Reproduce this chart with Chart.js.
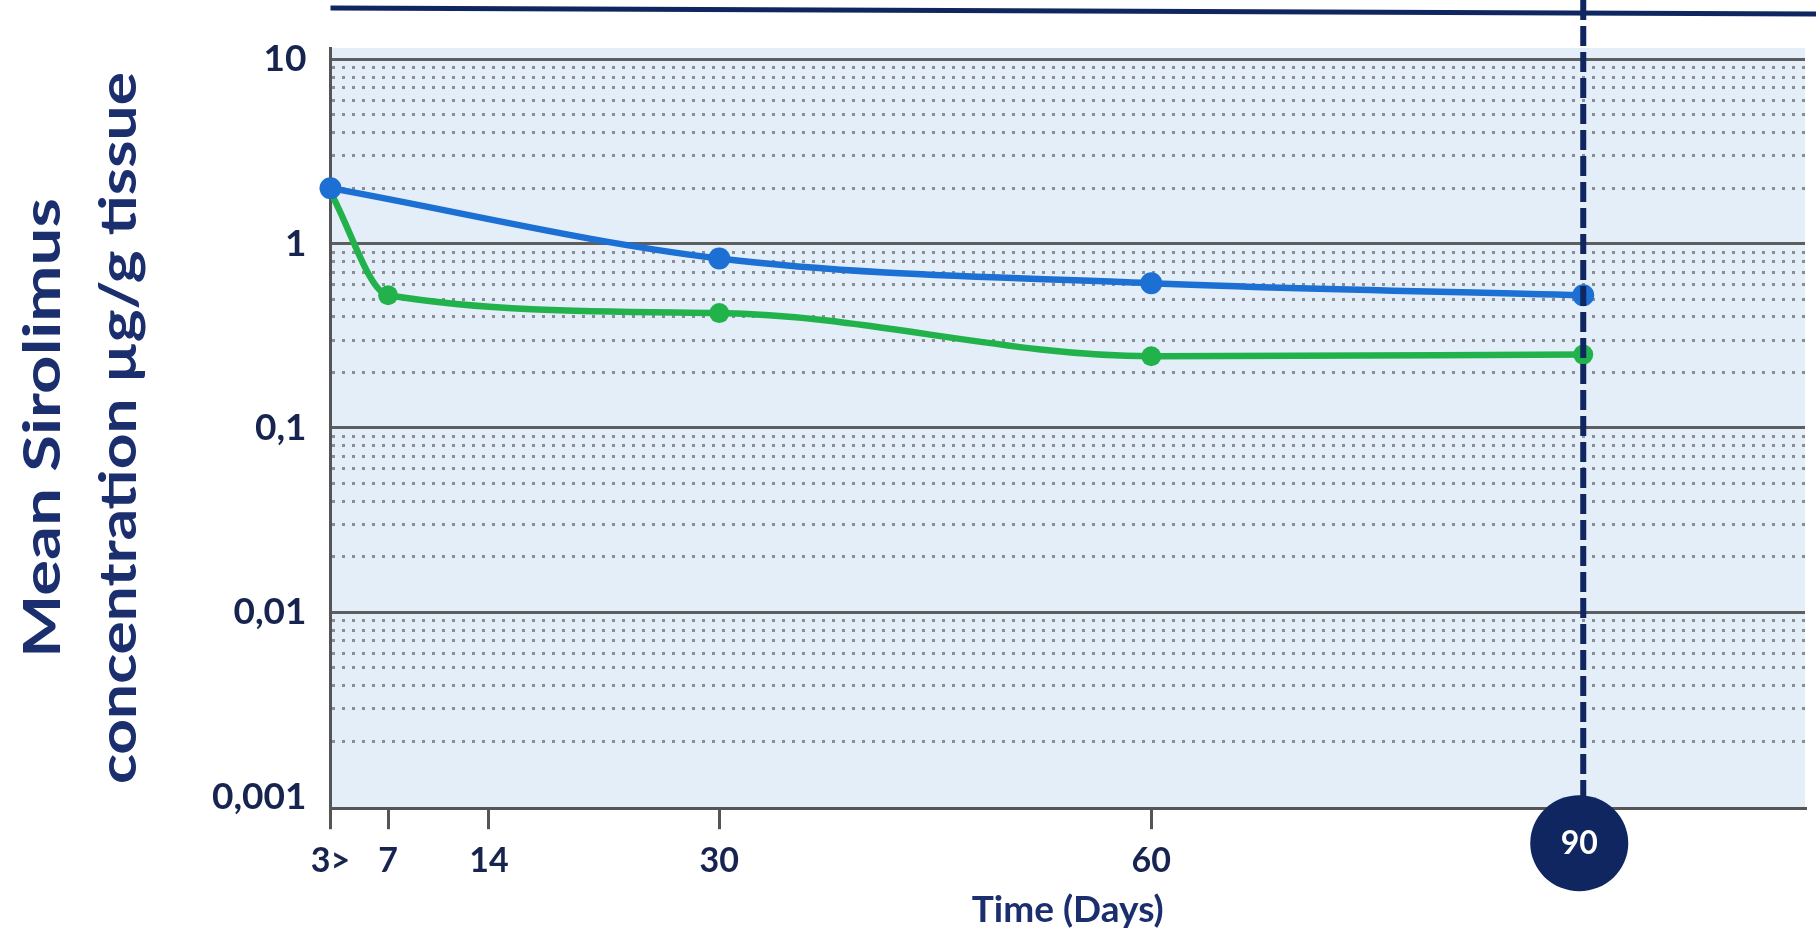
<!DOCTYPE html>
<html>
<head>
<meta charset="utf-8">
<script src="https://cdn.jsdelivr.net/npm/chart.js@4.4.1/dist/chart.umd.min.js"></script>
<style>
  html, body { margin: 0; padding: 0; background: #fff; }
</style>
</head>
<body>
<canvas id="chart1" width="1816" height="936"></canvas>
<script>
// values
const blueDays = [3, 30, 60, 90];
const blueValues = [2.0, 0.83, 0.61, 0.525];
const greenDays = [3, 7, 30, 60, 90];
const greenValues = [1.9, 0.525, 0.42, 0.245, 0.25];

const xTicks = [3, 7, 14, 30, 60, 90];
const xTickLabels = ['3>', '7', '14', '30', '60', ''];
const yDecades = [0.001, 0.01, 0.1, 1, 10];
const yTickLabels = ['0,001', '0,01', '0,1', '1', '10'];
const yTitleLines = ['Mean Sirolimus', 'concentration µg/g tissue'];
const markerDay = 90;
const markerLabel = '90';

const navy = '#0f2660';
const labelColor = '#16244f';
const titleColor = '#1b2f6e';
const yTitleLH = 76;
const yTitleLengths = [460, 712]; // the original text is stretched

// minor ticks 2..9 in every decade
const yTicks = [];
for (let i = 0; i < yDecades.length - 1; i++) {
  for (let k = 1; k <= 9; k++) {
    yTicks.push(parseFloat((k * yDecades[i]).toPrecision(3)));
  }
}
yTicks.push(yDecades[yDecades.length - 1]);

function decadeIndex(v) {
  return yDecades.findIndex(d => Math.abs(v / d - 1) < 1e-6);
}

function toPoints(days, vals) {
  return days.map((d, i) => ({ x: d, y: vals[i] }));
}

const decor = {
  id: 'decor',
  beforeDraw(chart) {
    const { ctx, chartArea } = chart;
    ctx.save();
    ctx.fillStyle = '#e4eef9';
    ctx.fillRect(chartArea.left, chartArea.top, chartArea.right - chartArea.left, chartArea.bottom - chartArea.top);
    ctx.restore();
  },
  afterDraw(chart) {
    const { ctx, chartArea } = chart;
    const x = chart.scales.x.getPixelForValue(markerDay);
    const cy = chartArea.bottom + 35;
    ctx.save();
    // top rule
    ctx.strokeStyle = navy;
    ctx.lineWidth = 5;
    ctx.beginPath();
    ctx.moveTo(chartArea.left, 8);
    ctx.lineTo(chart.width, 14);
    ctx.stroke();
    // dashed marker line
    ctx.lineWidth = 6;
    ctx.setLineDash([20, 6]);
    ctx.beginPath();
    ctx.moveTo(x, 0);
    ctx.lineTo(x, cy);
    ctx.stroke();
    ctx.setLineDash([]);
    // badge
    ctx.fillStyle = navy;
    ctx.beginPath();
    ctx.ellipse(x - 4, cy, 49, 48, 0, 0, Math.PI * 2);
    ctx.fill();
    ctx.fillStyle = '#fff';
    ctx.font = 'bold 32px Lato';
    ctx.textAlign = 'center';
    ctx.textBaseline = 'middle';
    ctx.fillText(markerLabel, x - 4, cy);
    ctx.restore();

    // y title, two lines, stretched like the original
    const ys = chart.scales.y;
    const midY = (chartArea.top + chartArea.bottom) / 2;
    yTitleLines.forEach((line, i) => {
      ctx.save();
      ctx.font = 'bold 52px Lato';
      const w = ctx.measureText(line).width;
      ctx.translate(ys.left + 5 + yTitleLH * (i + 0.5), midY);
      ctx.rotate(-Math.PI / 2);
      ctx.scale(yTitleLengths[i] / w, 1);
      ctx.fillStyle = titleColor;
      ctx.textAlign = 'center';
      ctx.textBaseline = 'middle';
      ctx.fillText(line, 0, 0);
      ctx.restore();
    });
  }
};

new Chart(document.getElementById('chart1'), {
  type: 'line',
  data: {
    datasets: [{
      label: 'blue',
      data: toPoints(blueDays, blueValues),
      borderColor: '#1c6fd3',
      backgroundColor: '#1c6fd3',
      borderWidth: 6.5,
      pointRadius: 11,
      pointBorderWidth: 0,
      cubicInterpolationMode: 'monotone',
      clip: false
    }, {
      label: 'green',
      data: toPoints(greenDays, greenValues),
      borderColor: '#22b24c',
      backgroundColor: '#22b24c',
      borderWidth: 6.5,
      pointRadius: [0, 10, 10, 10, 10],
      pointBorderWidth: 0,
      cubicInterpolationMode: 'monotone',
      clip: false
    }]
  },
  options: {
    responsive: false,
    animation: false,
    events: [],
    layout: { padding: { top: 48, right: 10, left: 0, bottom: 7 } },
    plugins: { legend: { display: false }, tooltip: { enabled: false } },
    scales: {
      x: {
        type: 'linear',
        min: 3,
        max: 105.4,
        afterBuildTicks: (scale) => { scale.ticks = xTicks.map(v => ({ value: v })); },
        ticks: {
          autoSkip: false,
          maxRotation: 0,
          padding: 11,
          color: labelColor,
          font: { family: 'Lato', size: 34, weight: 'bold' },
          callback: (v) => xTickLabels[xTicks.indexOf(v)]
        },
        grid: { drawOnChartArea: false, tickLength: 21, tickColor: '#555', tickWidth: 3, lineWidth: 3 },
        border: { color: '#555', width: 3 },
        title: {
          display: true,
          text: 'Time (Days)',
          color: titleColor,
          font: { family: 'Lato', size: 37, weight: 'bold', lineHeight: 1.0 },
          padding: { top: 0, bottom: 0 }
        }
      },
      y: {
        type: 'logarithmic',
        min: 0.000865,
        max: 11.52,
        afterBuildTicks: (scale) => { scale.ticks = yTicks.map(v => ({ value: v })); },
        ticks: {
          autoSkip: false,
          padding: 24,
          color: labelColor,
          font: { family: 'Lato', size: 37, weight: 'bold' },
          callback: (v) => { const i = decadeIndex(v); return i >= 0 ? yTickLabels[i] : ''; }
        },
        grid: {
          drawTicks: false,
          color: (c) => {
            const i = decadeIndex(c.tick.value);
            if (i === 0) return 'rgba(0,0,0,0)';
            return i > 0 ? '#5e5e5e' : '#8a8e94';
          },
          lineWidth: 3
        },
        border: {
          color: '#555',
          width: 3,
          dash: (c) => decadeIndex(c.tick.value) >= 0 ? [] : [3, 7]
        },
        title: {
          // space holder, the text itself is drawn by the decor plugin
          display: true,
          text: yTitleLines,
          color: 'rgba(0,0,0,0)',
          font: { family: 'Lato', size: 52, weight: 'bold', lineHeight: yTitleLH / 52 },
          padding: { top: 5, bottom: 31 }
        }
      }
    }
  },
  plugins: [decor]
});
</script>
</body>
</html>
